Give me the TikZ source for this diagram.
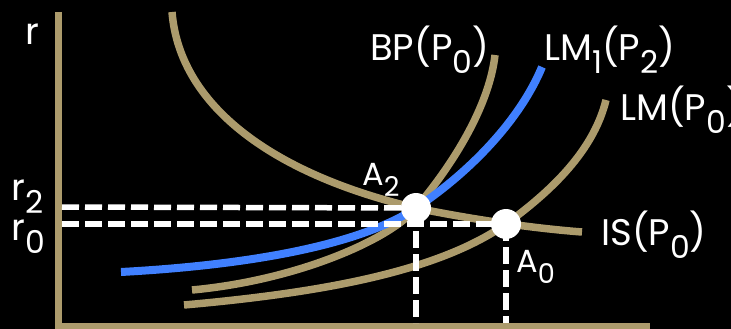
\documentclass[tikz,border=0pt]{standalone}
\usepackage{fontspec}
\setmainfont{Poppins}
\newcommand\mysub[1]{\raisebox{-0.36em}{\scalebox{0.85}{#1}}}
\definecolor{tan}{RGB}{172,155,108}
\definecolor{lmblue}{RGB}{64,128,255}
\begin{document}
\begin{tikzpicture}[x=1pt,y=-1pt,
  curve/.style={line width=7.5pt,tan},
  bluecurve/.style={line width=8pt,lmblue},
  axis/.style={line width=7pt,tan},
  dashline/.style={white,line width=5.5pt,dash pattern=on 17pt off 6pt},
  dot/.style={circle,fill=white,minimum size=30pt,inner sep=0pt},
  lbl/.style={text=white,anchor=base west,inner sep=0pt,font=\fontsize{37}{40}\selectfont},
  albl/.style={text=white,anchor=base west,inner sep=0pt,font=\fontsize{32}{36}\selectfont}]
\fill[black] (0,0) rectangle (731,329);
\useasboundingbox (0,0) rectangle (731,329);
% coordinates
\coordinate (ytop) at (58,12);
\coordinate (origin) at (58,326);
\coordinate (xend) at (650,326);
\coordinate (A2) at (416,208);
\coordinate (A0) at (506,224);
\coordinate (r2ax) at (62,207);
\coordinate (r0ax) at (62,224);
\coordinate (A2ax) at (416,323);
\coordinate (A0ax) at (506,323);
% axes
\draw[axis] (ytop) -- (origin) -- (xend);
% IS
\draw[curve] (172,12) .. controls (180,110) and (280,176) .. (A2)
  .. controls (470,219) and (530,228) .. (582,232) coordinate (ISend);
% BP
\draw[curve] (192,290) .. controls (300,280) and (392,238) .. (A2)
  .. controls (460,156) and (490,100) .. (495,55) coordinate (BPend);
% LM(P0)
\draw[curve] (184,305) .. controls (330,292) and (440,270) .. (A0)
  .. controls (560,185) and (595,145) .. (606,100) coordinate (LMend);
% LM1(P2)
\draw[bluecurve] (121,272) .. controls (250,265) and (360,245) .. (A2)
  .. controls (470,172) and (520,120) .. (542,67) coordinate (LMoneend);
% dashed lines
\draw[dashline] (r2ax) -- (A2);
\draw[dashline] (r0ax) -- (A0);
\draw[dashline] (A2) -- (A2ax);
\draw[dashline] (A0) -- (A0ax);
% points
\node[dot] (A2dot) at (A2) {};
\node[dot] (A0dot) at (A0) {};
% labels
\node[lbl] (rlbl) at (25,45) {r};
\node[lbl] (rtwo) at (11,200) {r\mysub{2}};
\node[lbl] (rzero) at (11,240) {r\mysub{0}};
\node[lbl] (BPlbl) at (370,60) {BP(P\mysub{0})};
\node[lbl] (LMonelbl) at (544,60) {LM\mysub{1}(P\mysub{2})};
\node[lbl] (LMlbl) at (620,120) {LM(P\mysub{0})};
\node[lbl] (ISlbl) at (601,245) {IS(P\mysub{0})};
\node[albl] (Atwolbl) at (362,185) {A\mysub{2}};
\node[albl] (Azerolbl) at (516,272) {A\mysub{0}};
\end{tikzpicture}
\end{document}
